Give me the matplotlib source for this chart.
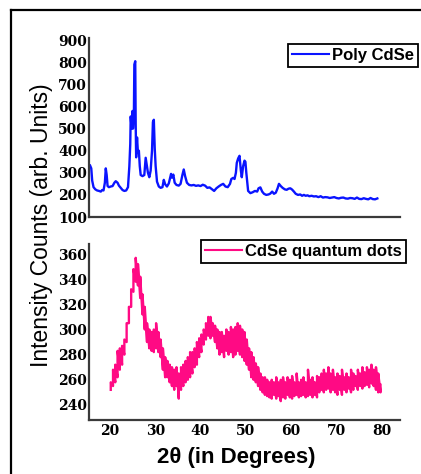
import numpy as np
import matplotlib
matplotlib.use('Agg')
import matplotlib.pyplot as plt
from matplotlib.lines import Line2D

plt.rcParams['font.family'] = ['Liberation Sans', 'DejaVu Sans']

# Poly CdSe (2theta, counts)
poly_theta = [15.4, 15.6, 15.9, 16.1, 16.4, 16.8, 17.2, 17.6, 18.0, 18.3, 18.6, 18.9, 19.1, 19.3,
              19.5, 19.8, 20.2, 20.6, 21.0, 21.3, 21.7, 22.0, 22.4, 22.8, 23.2, 23.6, 24.0, 24.3,
              24.5, 24.6, 24.8, 25.0, 25.1, 25.3, 25.4, 25.6, 25.7, 25.8, 26.0, 26.2, 26.4, 26.6,
              26.8, 27.2, 27.6, 27.9, 28.1, 28.4, 28.7, 29.0, 29.3, 29.5, 29.7, 29.9, 30.1, 30.4,
              30.8, 31.2, 31.6, 31.9, 32.2, 32.6, 33.0, 33.3, 33.5, 33.7, 34.0, 34.3, 34.7, 35.2,
              35.6, 36.0, 36.3, 36.6, 37.0, 37.5, 38.0, 38.5, 39.0, 39.5, 40.0, 40.5, 41.0, 41.5,
              42.0, 42.5, 43.0, 43.5, 44.0, 44.5, 45.0, 45.5, 46.0, 46.5, 46.8, 47.2, 47.5, 47.8,
              48.0, 48.3, 48.6, 48.9, 49.1, 49.4, 49.7, 49.9, 50.1, 50.5, 51.0, 51.5, 52.0, 52.5,
              52.8, 53.2, 53.6, 54.0, 54.5, 55.0, 55.4, 55.8, 56.2, 56.6, 57.0, 57.3, 57.7, 58.1,
              58.6, 59.0, 59.4, 59.8, 60.2, 60.6, 61.0, 61.5, 62.0, 62.4, 62.8, 63.2, 63.6, 64.0,
              64.5, 65.0, 65.5, 66.0, 66.5, 67.0, 67.5, 68.0, 68.5, 69.0, 69.5, 70.0, 70.5, 71.0,
              71.5, 72.0, 72.5, 73.0, 73.5, 74.0, 74.5, 75.0, 75.5, 76.0, 76.5, 77.0, 77.5, 78.0,
              78.5, 79.0]
poly_counts = [330, 335, 320, 265, 235, 225, 220, 218, 215, 222, 220, 255, 320, 290,
               240, 235, 238, 240, 255, 262, 255, 242, 232, 222, 218, 220, 235, 330,
               430, 555, 500, 580, 500, 560, 790, 805, 520, 370, 460, 390, 400, 330,
               290, 285, 290, 368, 340, 300, 280, 310, 400, 530, 540, 410, 330, 260,
               238, 232, 235, 268, 248, 238, 252, 278, 295, 278, 292, 255, 245, 242,
               250, 290, 315, 285, 255, 245, 243, 245, 241, 243, 240, 246, 242, 232,
               234, 226, 218, 230, 238, 245, 250, 238, 235, 250, 272, 277, 272, 300,
               345, 365, 377, 310, 280, 330, 355, 350, 300, 218, 208, 212, 218, 215,
               230, 234, 215, 205, 200, 202, 206, 215, 205, 210, 230, 250, 240, 232,
               225, 223, 228, 230, 224, 215, 205, 200, 202, 196, 200, 196, 198, 194,
               196, 193, 194, 190, 194, 188, 190, 189, 186, 188, 190, 186, 184, 187,
               188, 184, 183, 186, 185, 182, 188, 182, 181, 185, 182, 180, 186, 181,
               180, 184]

# CdSe quantum dots: lower / upper envelope of the noisy trace, every 0.5 deg from 20.2
qd_lo = [252, 255, 258, 262, 268, 272, 280, 290, 305, 318, 330, 338, 335, 325, 312, 300,
         290, 285, 283, 282, 285, 282, 278, 268, 262, 262, 258, 255, 252, 255, 245, 252,
         255, 258, 260, 262, 265, 270, 272, 278, 282, 288, 292, 295, 293, 295, 290, 285,
         280, 282, 278, 283, 280, 282, 278, 280, 283, 280, 278, 275, 272, 268, 262, 260,
         258, 255, 252, 250, 248, 247, 246, 245, 248, 245, 247, 243, 246, 245, 248, 246,
         245, 247, 248, 246, 247, 248, 246, 247, 248, 246, 248, 246, 250, 252, 250, 252,
         253, 250, 252, 250, 248, 252, 248, 252, 250, 253, 250, 252, 255, 252, 255, 253,
         255, 256, 254, 257, 255, 252, 250, 250]
qd_hi = [258, 268, 272, 283, 285, 287, 292, 305, 318, 332, 348, 357, 352, 342, 328, 318,
         305, 300, 298, 300, 305, 298, 292, 285, 278, 275, 272, 270, 268, 270, 265, 270,
         272, 275, 278, 282, 282, 285, 290, 293, 296, 300, 305, 310, 310, 305, 303, 300,
         298, 298, 295, 300, 298, 302, 300, 302, 305, 303, 300, 298, 292, 285, 282, 278,
         273, 270, 265, 262, 262, 260, 258, 260, 258, 262, 258, 260, 262, 258, 262, 260,
         263, 258, 265, 258, 260, 262, 258, 268, 260, 262, 258, 263, 262, 265, 268, 265,
         270, 265, 268, 262, 265, 263, 268, 262, 265, 262, 268, 265, 263, 268, 265, 270,
         266, 270, 268, 272, 268, 270, 265, 256]
qd_theta = np.linspace(20.2, 79.7, len(qd_lo))

poly_yticks = [100, 200, 300, 400, 500, 600, 700, 800, 900]
qd_yticks = [240, 260, 280, 300, 320, 340, 360]
xticks = [20, 30, 40, 50, 60, 70, 80]

BLUE = '#0a14ff'
PINK = '#ff0a84'
SPINE = '#3a3a3a'
tick_font = dict(family='DejaVu Serif', weight='bold', size=10)

W, H = 421, 474
fig = plt.figure(figsize=(W / 100, H / 100), dpi=100)


def box(l, t, r, b):
    return [l / W, 1 - b / H, (r - l) / W, (b - t) / H]


ax1 = fig.add_axes(box(89, 38, 400, 217))
ax2 = fig.add_axes(box(89, 244, 400, 420))

for ax in (ax1, ax2):
    for s in ('top', 'right'):
        ax.spines[s].set_visible(False)
    for s in ('left', 'bottom'):
        ax.spines[s].set_color(SPINE)
        ax.spines[s].set_linewidth(1.6)
    ax.tick_params(length=0, pad=1.5)
    ax.set_xlim(15.4, 84)
    ax.set_xticks(xticks)

ax1.plot(poly_theta, poly_counts, color=BLUE, lw=1.7, label='Poly CdSe')
ax1.set_ylim(100, 910)
ax1.set_yticks(poly_yticks)
ax1.set_yticklabels([str(v) for v in poly_yticks], **tick_font)
ax1.set_xticklabels([])

# noisy trace drawn as zigzag between the read envelopes
zig_x = np.repeat(qd_theta, 2)
zig_y = np.column_stack([qd_lo, qd_hi]).ravel()
ax2.plot(zig_x, zig_y, color=PINK, lw=1.7, label='CdSe quantum dots')
ax2.set_ylim(228, 368)
ax2.set_yticks(qd_yticks)
ax2.set_yticklabels([str(v) for v in qd_yticks], **tick_font)
ax2.set_xticklabels([str(v) for v in xticks], **tick_font)
ax2.tick_params(axis='x', pad=3)

leg_kw = dict(fancybox=False, edgecolor='black', framealpha=1, borderpad=0.25,
              handlelength=2.2, handletextpad=0.2, borderaxespad=0,
              prop=dict(family='Liberation Sans', weight='bold', size=12))
l1 = ax1.legend(loc='upper right', bbox_to_anchor=(418 / W, 1 - 44 / H),
                bbox_transform=fig.transFigure, **leg_kw)
l2 = ax2.legend(loc='upper right', bbox_to_anchor=(406 / W, 1 - 240 / H),
                bbox_transform=fig.transFigure, **leg_kw)
for lg in (l1, l2):
    lg.get_frame().set_linewidth(1.3)
    lg.get_lines()[0].set_linewidth(1.5)

fig.text(42 / W, 1 - 225 / H, 'Intensity Counts (arb. Units)', rotation=90,
         ha='center', va='center', fontsize=16.5)
fig.text(236 / W, 1 - 458 / H, '2\u03b8 (in Degrees)', ha='center', va='center',
         fontsize=16, fontweight='bold')

# outer frame (top and left edges)
fig.add_artist(Line2D([11 / W, 1], [1 - 10 / H, 1 - 10 / H], color='black', lw=1.6,
                      transform=fig.transFigure))
fig.add_artist(Line2D([11 / W, 11 / W], [0, 1 - 10 / H], color='black', lw=1.6,
                      transform=fig.transFigure))

fig.savefig('out.png', dpi=100)
